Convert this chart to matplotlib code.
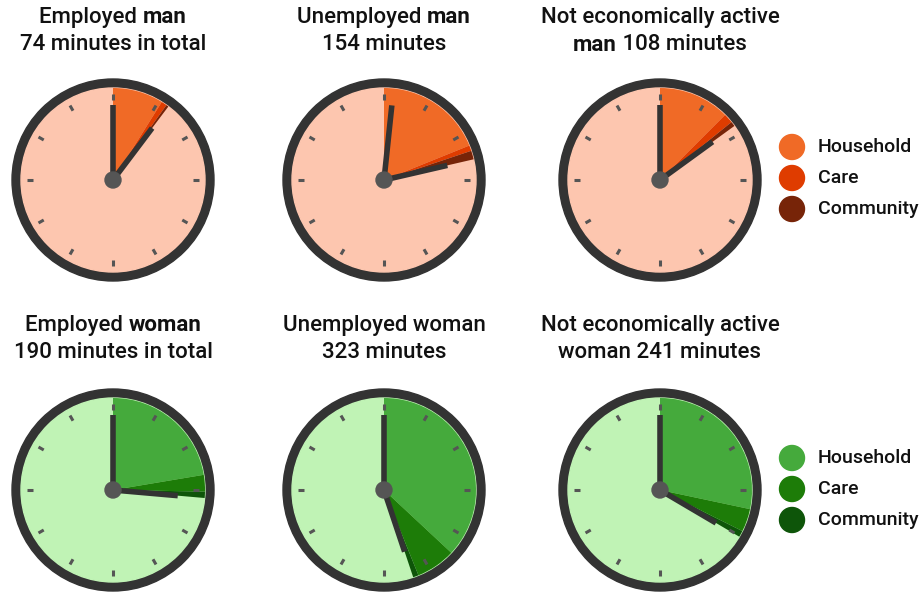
import matplotlib
matplotlib.use("Agg")
import matplotlib.pyplot as plt
from matplotlib.patches import Wedge, Circle
import numpy as np

# minutes per day spent on unpaid work, split by type
groups = ["Employed man", "Unemployed man", "Not econ. active man",
          "Employed woman", "Unemployed woman", "Not econ. active woman"]
household = [64, 136, 90, 161, 266, 204]
care = [7, 7, 12, 21, 50, 29]
community = [3, 11, 6, 8, 7, 8]
totals = [74, 154, 108, 190, 323, 241]
minute_hand = [0, 12, 0, 0, 0, 0]   # long hand position, minutes on the 12h dial
categories = ["Household", "Care", "Community"]

# title lines as (text, bold) pieces
titles = [
    [[("Employed ", False), ("man", True)], [("74 minutes in total", False)]],
    [[("Unemployed ", False), ("man", True)], [("154 minutes", False)]],
    [[("Not economically active", False)], [("man", True), (" 108 minutes", False)]],
    [[("Employed ", False), ("woman", True)], [("190 minutes in total", False)]],
    [[("Unemployed woman", False)], [("323 minutes", False)]],
    [[("Not economically active", False)], [("woman 241 minutes", False)]],
]

MAN = {"face": "#fdc6af", "cols": ["#f06a26", "#df3c00", "#772408"]}
WOMAN = {"face": "#c0f3b5", "cols": ["#45aa3c", "#1d7c08", "#0e5509"]}
RIM, HAND, HUB, TICK = "#333333", "#333333", "#555555", "#555555"
FONT = ["Liberation Sans Narrow", "Roboto", "DejaVu Sans"]

W, H = 920, 594
fig = plt.figure(figsize=(W / 100, H / 100), dpi=100)
ax = fig.add_axes([0, 0, 1, 1])
ax.set_xlim(0, W)
ax.set_ylim(0, H)
ax.set_aspect("equal")
ax.axis("off")

col_x = [113, 384, 660]
row_y = [H - 180, H - 490]
title_y = [(H - 17, H - 45), (H - 325, H - 352)]
R_OUT, R_FACE = 101, 92


def ang(minutes):
    # 12h dial, clockwise from 12 -> matplotlib degrees
    return 90 - minutes / 720 * 360


renderer = fig.canvas.get_renderer()


def draw_line(pieces, xc, y):
    txts = []
    for s, b in pieces:
        t = ax.text(0, y, s, fontsize=16, family=FONT,
                    fontweight="bold" if b else "medium", color="#111111",
                    ha="left", va="center")
        txts.append(t)
    widths = [t.get_window_extent(renderer).width for t in txts]
    x = xc - sum(widths) / 2
    for t, w in zip(txts, widths):
        t.set_x(x)
        x += w


for i in range(6):
    r, c = divmod(i, 3)
    cx, cy = col_x[c], row_y[r]
    pal = MAN if r == 0 else WOMAN
    ax.add_patch(Circle((cx, cy), R_OUT, color=RIM, zorder=1))
    ax.add_patch(Circle((cx, cy), R_FACE, color=pal["face"], zorder=2))
    start = 0
    for val, colr in zip([household[i], care[i], community[i]], pal["cols"]):
        ax.add_patch(Wedge((cx, cy), R_FACE, ang(start + val), ang(start),
                           color=colr, lw=0, zorder=3))
        start += val
    # hour ticks
    for k in range(12):
        a = np.deg2rad(90 - k * 30)
        ax.plot([cx + 80 * np.cos(a), cx + 86 * np.cos(a)],
                [cy + 80 * np.sin(a), cy + 86 * np.sin(a)],
                color=TICK, lw=2.2, solid_capstyle="butt", zorder=4)
    # hands
    a1 = np.deg2rad(ang(minute_hand[i]))
    ax.plot([cx, cx + 75 * np.cos(a1)], [cy, cy + 75 * np.sin(a1)],
            color=HAND, lw=4, solid_capstyle="butt", zorder=5)
    a2 = np.deg2rad(ang(totals[i]))
    ax.plot([cx, cx + 65 * np.cos(a2)], [cy, cy + 65 * np.sin(a2)],
            color=HAND, lw=4, solid_capstyle="butt", zorder=5)
    ax.add_patch(Circle((cx, cy), 8, color=HUB, zorder=6))
    for line, ty in zip(titles[i], title_y[r]):
        draw_line(line, cx, ty)

# legends
for r, pal in enumerate([MAN, WOMAN]):
    base = [H - 147, H - 458][r]
    for k, (lab, colr) in enumerate(zip(categories, pal["cols"])):
        y = base - k * 31
        ax.add_patch(Circle((792, y), 12.5, color=colr))
        ax.text(818, y, lab, fontsize=14, family=FONT, fontweight="medium",
                color="#111111", ha="left", va="center")

fig.savefig("out.png", dpi=100)
